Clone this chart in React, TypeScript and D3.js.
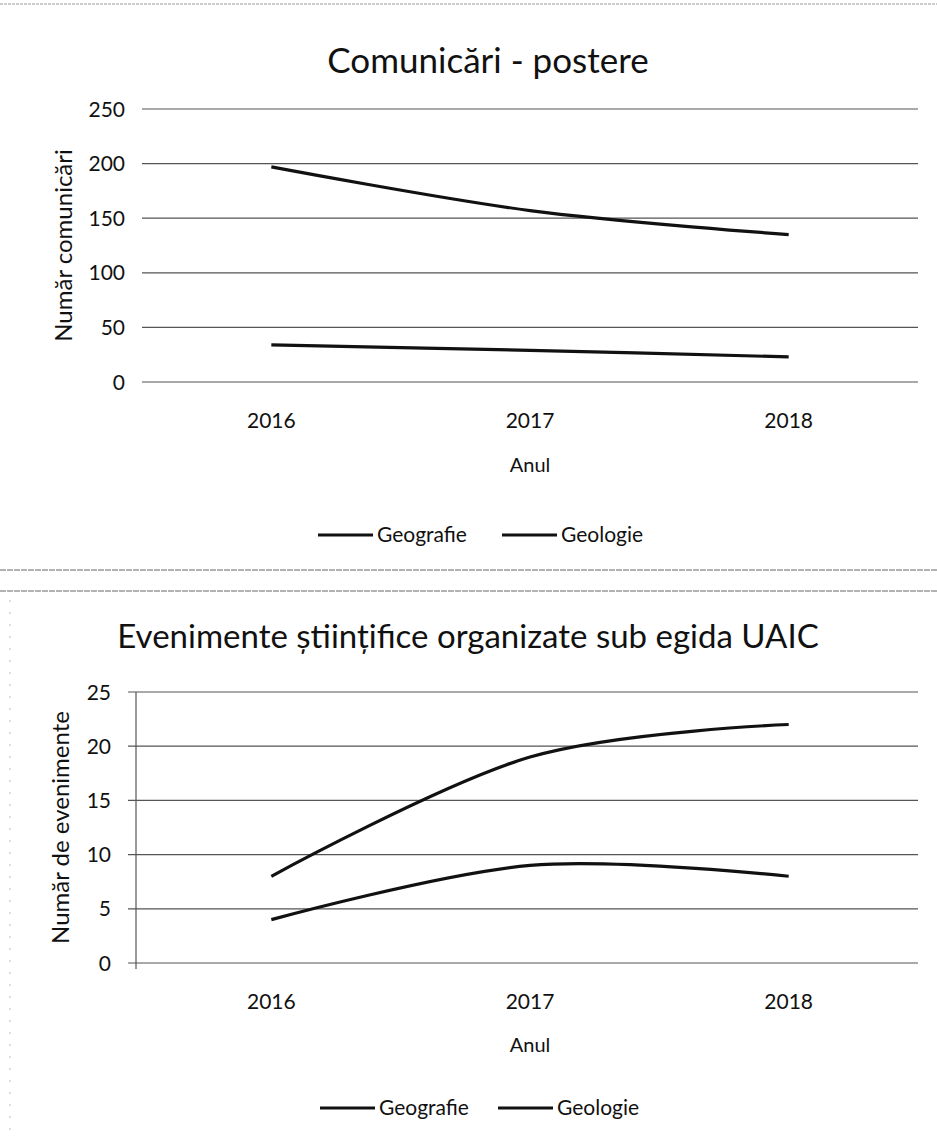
import React, { useRef, useEffect } from 'react';
import * as d3 from 'd3';

const years = ['2016', '2017', '2018'];
const seriesNames = ['Geografie', 'Geologie'];

// Comunicări - postere
const postereGeografie = [197, 157, 135];
const postereGeologie = [34, 29, 23];
const postereTicks = [0, 50, 100, 150, 200, 250];

// Evenimente științifice
const evenimenteGeografie = [8, 19, 22];
const evenimenteGeologie = [4, 9, 8];
const evenimenteTicks = [0, 5, 10, 15, 20, 25];

const FONT = 'Lato, "Open Sans", sans-serif';

type ChartCfg = {
  title: string;
  yLabel: string;
  series: number[][];
  ticks: number[];
  top: number;
  bottom: number;
  titleY: number;
  titleX: number;
  titleSize: number;
  yLabelX: number;
  tickRight: number;
  xLabelY: number;
  axisTitleY: number;
  legendY: number;
  legendStarts: number[];
  axisLine: boolean;
};

const App = () => {
  const ref = useRef<SVGSVGElement | null>(null);

  useEffect(() => {
    const svg = d3.select(ref.current);
    svg.selectAll('*').remove();

    // scan frame lines
    svg.append('line').attr('x1', 0).attr('x2', 937).attr('y1', 4).attr('y2', 4)
      .attr('stroke', '#999').attr('stroke-width', 1).attr('stroke-dasharray', '3,1');
    [570, 591].forEach(y => {
      svg.append('line').attr('x1', 0).attr('x2', 937).attr('y1', y).attr('y2', y)
        .attr('stroke', '#666').attr('stroke-width', 1).attr('stroke-dasharray', '6,1');
    });
    svg.append('line').attr('x1', 10).attr('x2', 10).attr('y1', 600).attr('y2', 1140)
      .attr('stroke', '#bbb').attr('stroke-width', 1).attr('stroke-dasharray', '2,10');

    const charts: ChartCfg[] = [
      {
        title: 'Comunicări - postere', yLabel: 'Număr comunicări',
        series: [postereGeografie, postereGeologie], ticks: postereTicks,
        top: 109, bottom: 382, titleY: 73, titleX: 488, titleSize: 35, yLabelX: 72, tickRight: 125,
        xLabelY: 428, axisTitleY: 472, legendY: 535, legendStarts: [318, 502], axisLine: false,
      },
      {
        title: 'Evenimente științifice organizate sub egida UAIC', yLabel: 'Număr de evenimente',
        series: [evenimenteGeografie, evenimenteGeologie], ticks: evenimenteTicks,
        top: 692, bottom: 963, titleY: 648, titleX: 468, titleSize: 33, yLabelX: 69, tickRight: 111,
        xLabelY: 1009, axisTitleY: 1052, legendY: 1108, legendStarts: [320, 498], axisLine: true,
      },
    ];

    charts.forEach(c => {
      const g = svg.append('g');
      const left = c.axisLine ? 136 : 142;
      const right = 918;

      const x = d3.scaleBand().domain(years).range([142, right]);
      const y = d3.scaleLinear().domain([0, d3.max(c.ticks) as number]).range([c.bottom, c.top]);

      g.append('text').attr('x', c.titleX).attr('y', c.titleY).attr('text-anchor', 'middle')
        .style('font-family', FONT).style('font-size', `${c.titleSize}px`).attr('fill', '#111').text(c.title);

      // gridlines
      g.selectAll('.grid').data(c.ticks).enter().append('line')
        .attr('x1', c.axisLine ? 128 : left).attr('x2', right)
        .attr('y1', d => y(d)).attr('y2', d => y(d))
        .attr('stroke', '#555').attr('stroke-width', 1.2);

      if (c.axisLine) {
        g.append('line').attr('x1', left).attr('x2', left).attr('y1', c.top).attr('y2', c.bottom + 6)
          .attr('stroke', '#555').attr('stroke-width', 1.2);
      }

      // y tick labels
      g.selectAll('.yt').data(c.ticks).enter().append('text')
        .attr('x', c.tickRight).attr('y', d => y(d)).attr('dy', '0.36em').attr('text-anchor', 'end')
        .style('font-family', FONT).style('font-size', '21px').attr('fill', '#111').text(d => d);

      // x tick labels
      g.selectAll('.xt').data(years).enter().append('text')
        .attr('x', d => (x(d) as number) + x.bandwidth() / 2).attr('y', c.xLabelY)
        .attr('text-anchor', 'middle')
        .style('font-family', FONT).style('font-size', '21px').attr('fill', '#111').text(d => d);

      g.append('text').attr('x', 530).attr('y', c.axisTitleY).attr('text-anchor', 'middle')
        .style('font-family', FONT).style('font-size', '20px').attr('fill', '#111').text('Anul');

      g.append('text')
        .attr('transform', `translate(${c.yLabelX},${(c.top + c.bottom) / 2}) rotate(-90)`)
        .attr('text-anchor', 'middle')
        .style('font-family', FONT).style('font-size', '24px').attr('fill', '#111').text(c.yLabel);

      const line = d3.line<number>()
        .x((_, i) => (x(years[i]) as number) + x.bandwidth() / 2)
        .y(d => y(d))
        .curve(d3.curveCardinal.tension(0));

      c.series.forEach(s => {
        g.append('path').datum(s).attr('d', line).attr('fill', 'none')
          .attr('stroke', '#111').attr('stroke-width', 3.2);
      });

      // legend
      seriesNames.forEach((name, i) => {
        const lx = c.legendStarts[i];
        g.append('line').attr('x1', lx).attr('x2', lx + 55)
          .attr('y1', c.legendY).attr('y2', c.legendY)
          .attr('stroke', '#111').attr('stroke-width', 3);
        g.append('text').attr('x', lx + 59).attr('y', c.legendY).attr('dy', '0.35em')
          .style('font-family', FONT).style('font-size', '21px').attr('fill', '#111').text(name);
      });
    });
  }, []);

  return (
    <svg ref={ref} width={937} height={1140}
      style={{ position: 'absolute', left: 0, top: 0, background: '#fff' }} />
  );
};

export default App;
